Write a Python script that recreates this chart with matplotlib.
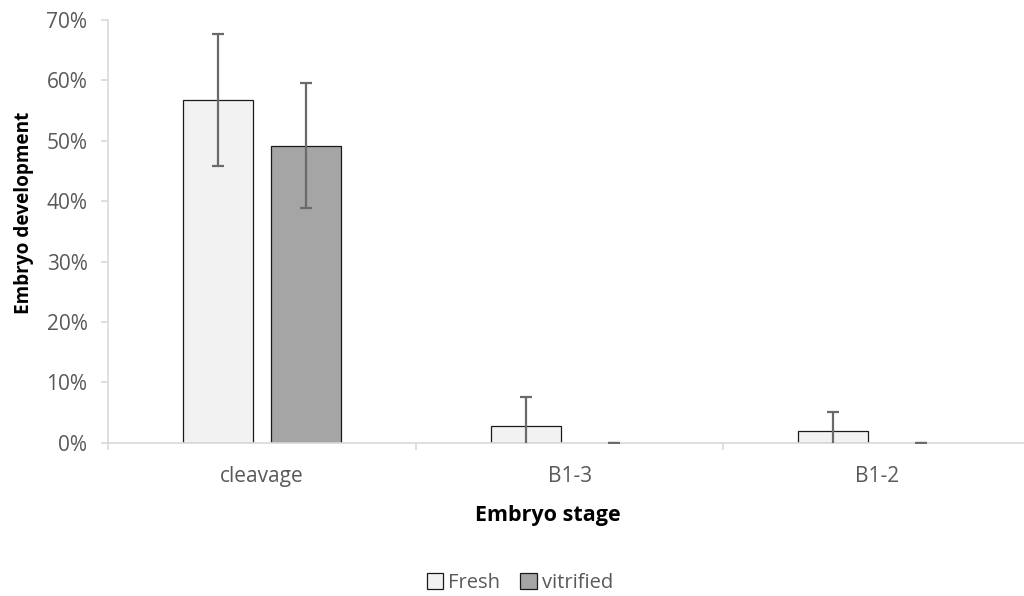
import matplotlib
matplotlib.use("Agg")
import matplotlib.pyplot as plt
import numpy as np
from matplotlib.ticker import FuncFormatter, FixedLocator
from matplotlib.patches import Patch

categories = ["cleavage", "B1-3", "B1-2"]
fresh = [56.8, 2.7, 1.95]
fresh_err = [10.95, 4.85, 3.2]
vitrified = [49.2, 0.0, 0.0]
vitrified_err = [10.4, 0.0, 0.0]
series_names = ["Fresh", "vitrified"]
yticks = [0, 10, 20, 30, 40, 50, 60, 70]

plt.rcParams['font.family'] = ['Open Sans', 'DejaVu Sans']

fig = plt.figure(figsize=(10.24, 5.96), dpi=100)
ax = fig.add_axes([108.3/1024, 153.3/596, (1031-108.3)/1024, (442.7-20)/596])

x = np.arange(len(categories))
w = 0.227
off = 0.143
cols = ["#F2F2F2", "#A5A5A5"]
errc = "#6A6A6A"

for vals, errs, sign, col in [(fresh, fresh_err, -1, cols[0]), (vitrified, vitrified_err, 1, cols[1])]:
    lws = [0.9 if v > 0 else 0 for v in vals]
    ax.bar(x + sign*off, vals, width=w, color=col, edgecolor="#1a1a1a", linewidth=lws, zorder=2)
    ax.errorbar(x + sign*off, vals, yerr=errs, fmt='none', ecolor=errc, elinewidth=1.6,
                capsize=4.4, capthick=1.6, zorder=3)

ax.set_xlim(-0.5, 2.5)
ax.set_ylim(0, 70)
ax.yaxis.set_major_locator(FixedLocator(yticks))
ax.yaxis.set_major_formatter(FuncFormatter(lambda v, p: f"{v:.0f}%"))
ax.set_xticks(x)
ax.set_xticklabels(categories)
ax.set_xticks([-0.5, 0.5, 1.5, 2.5], minor=True)

for s in ["top", "right"]:
    ax.spines[s].set_visible(False)
for s in ["left", "bottom"]:
    ax.spines[s].set_color("#D9D9D9")
    ax.spines[s].set_linewidth(1.2)

ax.tick_params(axis='y', which='major', length=5, width=1.2, color="#D9D9D9",
               labelcolor="#595959", labelsize=15, pad=10)
ax.tick_params(axis='x', which='major', length=0, labelcolor="#595959", labelsize=15, pad=17)
ax.tick_params(axis='x', which='minor', length=5, width=1.2, color="#D9D9D9")

ax.set_xlabel("Embryo stage", fontsize=15.5, fontweight='bold')
ax.xaxis.set_label_coords((548-108.3)/922.7, (443-505)/423)
ax.set_ylabel("Embryo development", fontsize=13.7, fontweight='bold')
ax.yaxis.set_label_coords((34-108.3)/922.7, (443-213)/423)

handles = [Patch(facecolor=cols[0], edgecolor="#1a1a1a", linewidth=0.9),
           Patch(facecolor=cols[1], edgecolor="#1a1a1a", linewidth=0.9)]
leg = fig.legend(handles, series_names, loc='center', bbox_to_anchor=(520/1024, 13/596),
                 ncol=2, frameon=False, fontsize=14.5, handlelength=0.8, handleheight=0.8,
                 handletextpad=0.25, columnspacing=1.0, labelcolor="#595959")

fig.savefig("out.png", dpi=100)
